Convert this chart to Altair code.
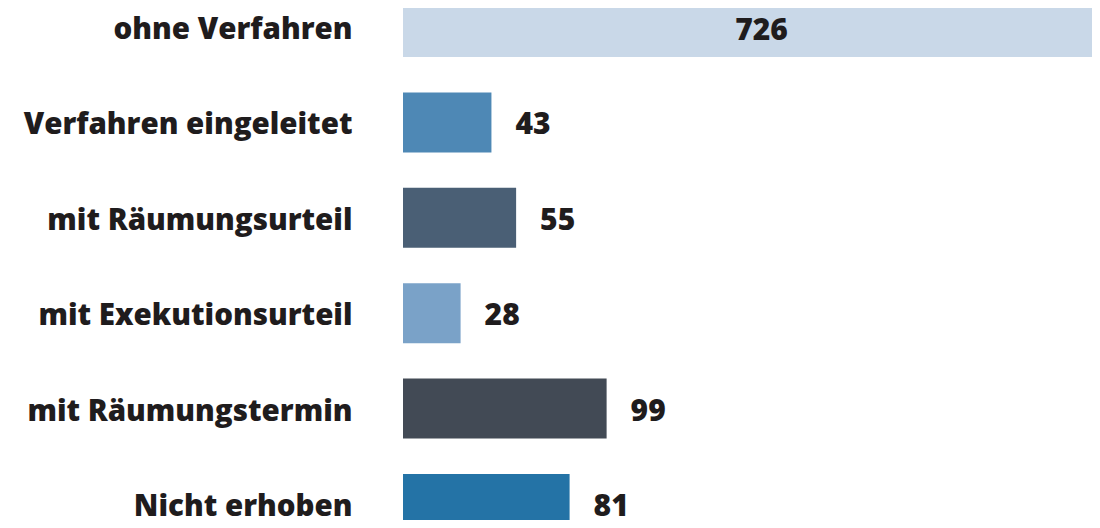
import altair as alt
import pandas as pd

categories = ["ohne Verfahren", "Verfahren eingeleitet", "mit Räumungsurteil",
              "mit Exekutionsurteil", "mit Räumungstermin", "Nicht erhoben"]
values = [726, 43, 55, 28, 99, 81]
colors = ["#c9d8e8", "#4e88b5", "#4a5f75", "#7aa2c8", "#424a55", "#2473a6"]
X_MAX = 335  # visible part of the value axis (the first bar runs off the edge)

df = pd.DataFrame({"Kategorie": categories, "Anzahl": values})

FONT = "Open Sans"
INK = "#1f1c1d"

y_enc = alt.Y(
    "Kategorie:N", sort=categories,
    scale=alt.Scale(paddingInner=0.371, paddingOuter=0),
    axis=alt.Axis(title=None, domain=False, ticks=False, labelPadding=51,
                  labelFont=FONT, labelFontWeight=800, labelFontSize=29.5,
                  labelOffset=3, labelColor=INK, labelLimit=600),
)
x_scale = alt.Scale(domain=[0, X_MAX], nice=False, clamp=True, zero=True)

base = alt.Chart(df)

bars = base.mark_bar().encode(
    x=alt.X("Anzahl:Q", scale=x_scale, axis=None),
    y=y_enc,
    color=alt.Color("Kategorie:N", scale=alt.Scale(domain=categories, range=colors), legend=None),
)

outside = base.transform_filter(f"datum.Anzahl <= {X_MAX}").mark_text(
    align="left", baseline="middle", dx=24, dy=3, font=FONT, fontSize=30,
    fontWeight=800, color=INK,
).encode(x=alt.X("Anzahl:Q", scale=x_scale, axis=None), y=y_enc, text="Anzahl:Q")

inside = base.transform_filter(f"datum.Anzahl > {X_MAX}").transform_calculate(
    mid=f"{X_MAX} / 2"
).mark_text(
    align="center", baseline="middle", dx=14, dy=4, font=FONT, fontSize=30,
    fontWeight=800, color=INK,
).encode(x=alt.X("mid:Q", scale=x_scale, axis=None), y=y_enc, text="Anzahl:Q")

chart = alt.layer(bars, outside, inside).properties(
    width=689, height=537, autosize="none",
    padding={"left": 395, "top": -11, "right": 0, "bottom": -14},
).configure_view(stroke=None)

chart.save("out.html", embed_options={"renderer": "svg", "actions": False})
